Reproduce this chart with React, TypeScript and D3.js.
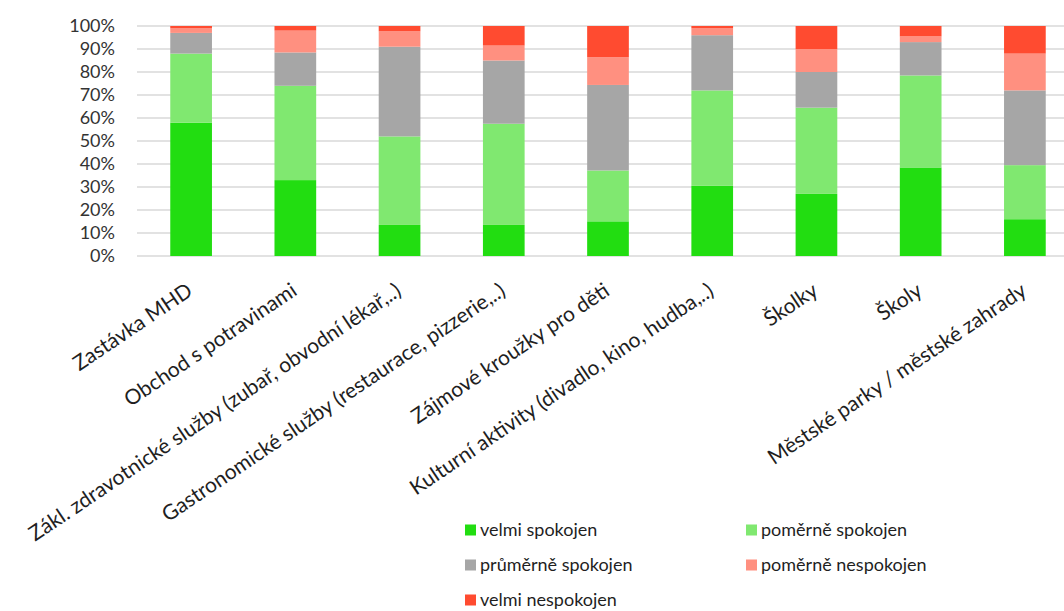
import React from "react";
import * as d3 from "d3";

const categories = [
  "Zastávka MHD",
  "Obchod s potravinami",
  "Zákl. zdravotnické služby (zubař, obvodní lékař,..)",
  "Gastronomické služby (restaurace, pizzerie,..)",
  "Zájmové kroužky pro děti",
  "Kulturní aktivity (divadlo, kino, hudba,..)",
  "Školky",
  "Školy",
  "Městské parky / městské zahrady",
];

const seriesNames = [
  "velmi spokojen",
  "poměrně spokojen",
  "průměrně spokojen",
  "poměrně nespokojen",
  "velmi nespokojen",
];

const velmiSpokojen = [58, 33, 13.5, 13.5, 15, 30.5, 27, 38.5, 16];
const pomerneSpokojen = [30, 41, 38.5, 44, 22, 41.5, 37.5, 40, 23.5];
const prumerneSpokojen = [9, 14.5, 39, 27.5, 37, 24, 15.5, 14.5, 32.5];
const pomerneNespokojen = [2, 9.5, 6.7, 6.5, 12, 3, 10, 2.5, 16];
const velmiNespokojen = [1, 2, 2.3, 8.5, 13.5, 1, 10, 4.5, 12];

const yTicks = [0, 10, 20, 30, 40, 50, 60, 70, 80, 90, 100];

const colors = ["#22DD11", "#80E870", "#A6A6A6", "#FF9080", "#FF4B30"];

const FONT = "Lato, 'Open Sans', sans-serif";

export default function App() {
  const W = 1064;
  const H = 611;
  const rows = categories.map((c, i) => {
    const vals = [
      velmiSpokojen[i],
      pomerneSpokojen[i],
      prumerneSpokojen[i],
      pomerneNespokojen[i],
      velmiNespokojen[i],
    ];
    const total = d3.sum(vals);
    const r: any = { cat: c };
    seriesNames.forEach((s, k) => (r[s] = (vals[k] / total) * 100));
    return r;
  });
  const stacked = d3.stack<any>().keys(seriesNames)(rows);

  const x = d3
    .scaleBand<string>()
    .domain(categories)
    .range([139, 1077])
    .paddingInner(0.6)
    .paddingOuter(0.3);
  const y = d3.scaleLinear().domain([0, 100]).range([256, 26]);

  const legendItems = [
    { name: seriesNames[0], x: 465, y: 530, c: colors[0] },
    { name: seriesNames[1], x: 746, y: 530, c: colors[1] },
    { name: seriesNames[2], x: 465, y: 565, c: colors[2] },
    { name: seriesNames[3], x: 746, y: 565, c: colors[3] },
    { name: seriesNames[4], x: 465, y: 600, c: colors[4] },
  ];

  return (
    <svg
      width={W}
      height={H}
      style={{ position: "absolute", left: 0, top: 0, background: "#fff" }}
      fontFamily={FONT}
    >
      <rect width={W} height={H} fill="#fff" />
      {yTicks.map((t) => (
        <g key={t}>
          <line x1={137} x2={1064} y1={y(t)} y2={y(t)} stroke="#D9D9D9" strokeWidth={1.5} />
          <text
            x={115}
            y={y(t)}
            dy="0.36em"
            textAnchor="end"
            fontSize={18}
            fill="#333"
          >
            {t}%
          </text>
        </g>
      ))}
      {stacked.map((s, k) => (
        <g key={s.key} fill={colors[k]}>
          {s.map((d, i) => (
            <rect
              key={i}
              x={x(categories[i])}
              width={x.bandwidth()}
              y={y(d[1])}
              height={y(d[0]) - y(d[1])}
            />
          ))}
        </g>
      ))}
      {categories.map((c) => {
        const cx = (x(c) as number) + x.bandwidth() / 2;
        return (
          <text
            key={c}
            transform={`translate(${cx + 3},${294}) rotate(-34)`}
            textAnchor="end"
            fontSize={21}
            fill="#1f1f1f"
          >
            {c}
          </text>
        );
      })}
      {legendItems.map((l) => (
        <g key={l.name}>
          <rect x={l.x} y={l.y - 5.5} width={11} height={11} fill={l.c} />
          <text x={l.x + 15} y={l.y} dy="0.36em" fontSize={18} fill="#1f1f1f">
            {l.name}
          </text>
        </g>
      ))}
    </svg>
  );
}
